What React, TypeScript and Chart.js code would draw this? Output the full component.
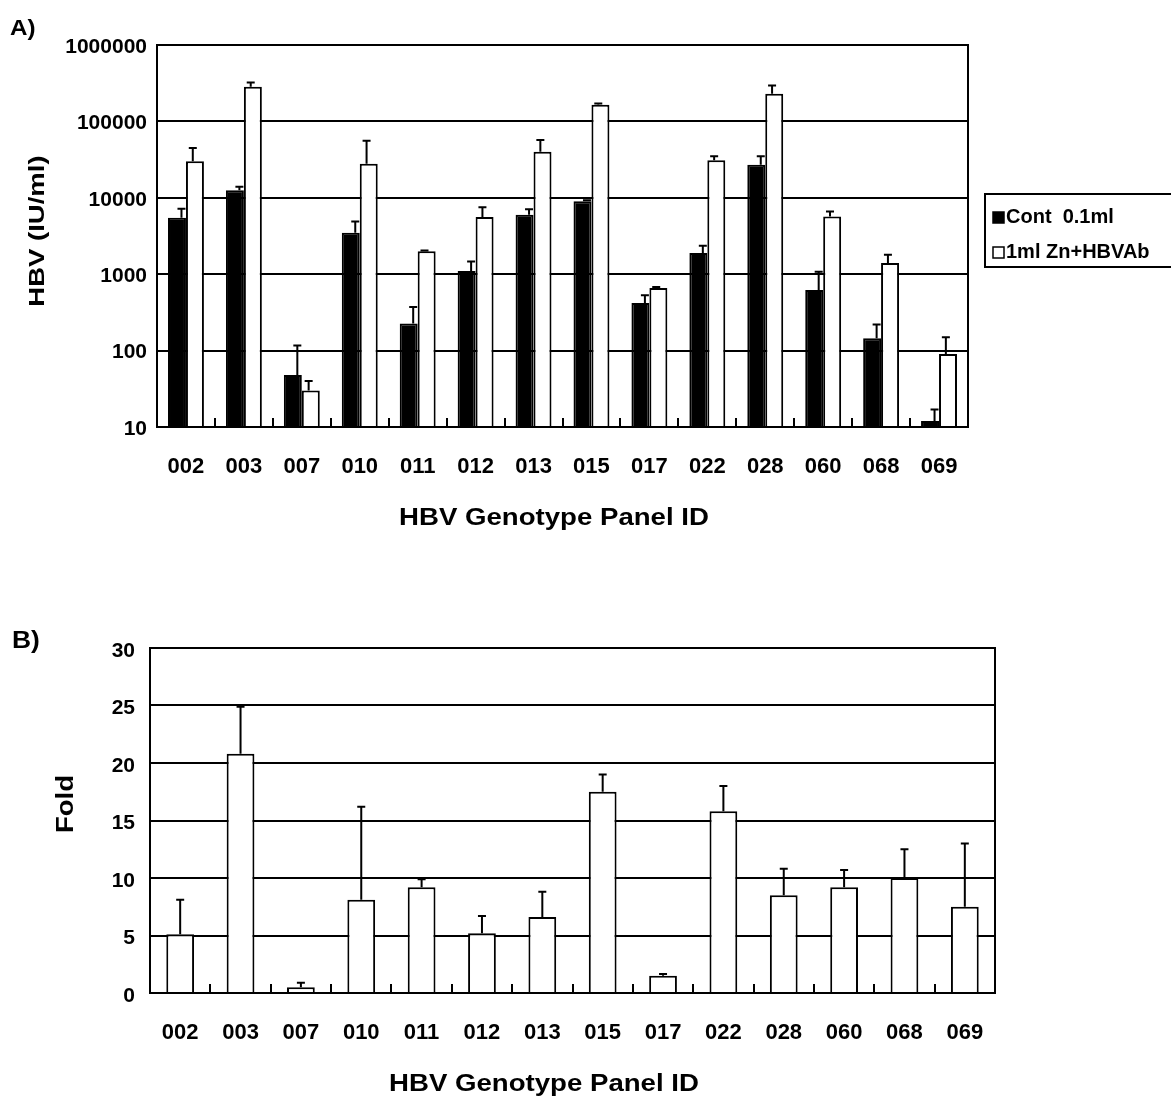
import React, { useEffect, useRef } from "react";
import { Chart, registerables } from "chart.js";

Chart.register(...registerables);

// ---------- data ----------
const categories = ["002", "003", "007", "010", "011", "012", "013", "015", "017", "022", "028", "060", "068", "069"];
const contLabel = "Cont  0.1ml";
const znLabel = "1ml Zn+HBVAb";
const contValues = [5500, 12600, 48, 3500, 226, 1100, 6000, 9000, 420, 1900, 27000, 620, 145, 12];
const contErrTop = [7200, 14000, 117, 4900, 373, 1470, 7100, 9300, 530, 2350, 35000, 1080, 220, 17];
const znValues = [30000, 285000, 30, 28000, 2000, 5600, 40000, 165000, 660, 31000, 230000, 5700, 1400, 90];
const znErrTop = [45000, 322000, 40, 56000, 2050, 7500, 57000, 172000, 680, 35000, 295000, 6600, 1800, 150];
const foldValues = [5.1, 20.8, 0.5, 8.1, 9.2, 5.2, 6.6, 17.5, 1.5, 15.8, 8.5, 9.2, 10.0, 7.5];
const foldErrTop = [8.1, 24.9, 0.9, 16.2, 9.9, 6.7, 8.8, 19.0, 1.65, 18.0, 10.8, 10.7, 12.5, 13.0];
const logTicks = [10, 100, 1000, 10000, 100000, 1000000];
const foldTicks = [0, 5, 10, 15, 20, 25, 30];
const xTitle = "HBV Genotype Panel ID";
const yTitleA = "HBV (IU/ml)";
const yTitleB = "Fold";

const FONT = "'Liberation Sans', Arial, sans-serif";

function text(ctx: CanvasRenderingContext2D, s: string, x: number, y: number, size: number, sx: number, align: CanvasTextAlign = "center", rot = 0) {
  ctx.save();
  ctx.translate(x, y);
  if (rot) ctx.rotate(rot);
  ctx.scale(sx, 1);
  ctx.font = `bold ${size}px ${FONT}`;
  ctx.fillStyle = "#000";
  ctx.textAlign = align;
  ctx.textBaseline = "middle";
  ctx.fillText(s, 0, 0);
  ctx.restore();
}

function framePlugin(opts: any) {
  return {
    id: "framePlugin",
    afterDatasetsDraw(chart: any) {
      const ctx: CanvasRenderingContext2D = chart.ctx;
      const { left, right, top, bottom } = chart.chartArea;
      const xs = chart.scales.x;
      const ys = chart.scales.y;
      ctx.save();
      ctx.strokeStyle = "#000";
      ctx.lineWidth = 2;
      // error bars (upper only, with cap)
      chart.data.datasets.forEach((ds: any, di: number) => {
        const meta = chart.getDatasetMeta(di);
        meta.data.forEach((bar: any, i: number) => {
          const topVal = ds.errTop[i];
          if (topVal == null) return;
          const w = bar.width;
          const x = bar.x + (ds.errShift || 0) * w;
          const y0 = ys.getPixelForValue(ds.data[i]);
          const y1 = ys.getPixelForValue(topVal);
          ctx.beginPath();
          ctx.moveTo(x, y0);
          ctx.lineTo(x, y1);
          ctx.moveTo(x - 4, y1);
          ctx.lineTo(x + 4, y1);
          ctx.stroke();
        });
      });
      // inner ticks at category boundaries
      for (let i = 0; i < categories.length - 1; i++) {
        const x = Math.round((xs.getPixelForValue(i) + xs.getPixelForValue(i + 1)) / 2);
        ctx.beginPath();
        ctx.moveTo(x, bottom);
        ctx.lineTo(x, bottom - 9);
        ctx.stroke();
      }
      // frame
      ctx.strokeRect(left, top, right - left, bottom - top);
      ctx.restore();

      // texts
      text(ctx, opts.panel, opts.panelX, opts.panelY, opts.panelSize, 1.1, "left");
      text(ctx, opts.yTitle, opts.yTitleX, opts.yTitleY, opts.yTitleSize, opts.yTitleSx, "center", -Math.PI / 2);
      text(ctx, xTitle, opts.xTitleX, opts.xTitleY, 23, 1.2);

      if (opts.legend) {
        const L = opts.legend;
        ctx.save();
        ctx.strokeStyle = "#000";
        ctx.lineWidth = 2;
        ctx.strokeRect(L.x, L.y, 1171 - L.x + 5, L.h);
        chart.data.datasets.forEach((ds: any, di: number) => {
          const cy = L.row0 + di * L.rowGap;
          ctx.fillStyle = ds.backgroundColor;
          ctx.fillRect(L.x + 8, cy - 5, 11, 11);
          ctx.lineWidth = 1.5;
          ctx.strokeRect(L.x + 8, cy - 5, 11, 11);
          text(ctx, ds.label, L.x + 21, cy, 20, 1.0, "left");
        });
        ctx.restore();
      }
    },
  };
}

function useChart(ref: React.RefObject<HTMLCanvasElement>, build: () => any) {
  useEffect(() => {
    if (!ref.current) return;
    const chart = new Chart(ref.current, build());
    return () => chart.destroy();
  }, []);
}

const yTickFont = { family: FONT, weight: "bold" as const, size: 21 };
const xTickFont = { family: FONT, weight: "bold" as const, size: 22 };

function TopChart() {
  const ref = useRef<HTMLCanvasElement>(null);
  useChart(ref, () => ({
    type: "bar",
    data: {
      labels: categories,
      datasets: [
        { label: contLabel, data: contValues, errTop: contErrTop, errShift: 0.25, backgroundColor: "#000", borderColor: "#000", borderWidth: 2 },
        { label: znLabel, data: znValues, errTop: znErrTop, errShift: -0.12, backgroundColor: "#fff", borderColor: "#000", borderWidth: 2 },
      ],
    },
    options: {
      animation: false,
      responsive: false,
      layout: { padding: { left: 0, right: 1171 - 968, top: 45, bottom: 560 - 427 - 60 } },
      plugins: { legend: { display: false }, tooltip: { enabled: false } },
      datasets: { bar: { categoryPercentage: 0.62, barPercentage: 1.0 } },
      scales: {
        x: {
          grid: { display: false },
          border: { display: false },
          ticks: { font: xTickFont, color: "#000", padding: 19, maxRotation: 0 },
          afterFit: (s: any) => { s.height = 60; },
        },
        y: {
          type: "logarithmic",
          min: 10,
          max: 1000000,
          afterBuildTicks: (s: any) => { s.ticks = logTicks.map((v) => ({ value: v })); },
          grid: { color: "#000", lineWidth: 2, drawTicks: false },
          border: { display: false },
          ticks: { font: yTickFont, color: "#000", padding: 10, labelOffset: 2, callback: (v: any) => String(v) },
          afterFit: (s: any) => { s.width = 157; },
        },
      },
    },
    plugins: [framePlugin({
      panel: "A)", panelX: 10, panelY: 29, panelSize: 22,
      yTitle: yTitleA, yTitleX: 38, yTitleY: 231, yTitleSize: 22, yTitleSx: 1.25,
      xTitleX: 554, xTitleY: 519,
      legend: { x: 985, y: 194, h: 73, row0: 217, rowGap: 35 },
    })],
  }));
  return <canvas ref={ref} width={1171} height={560} style={{ position: "absolute", left: 0, top: 0, width: 1171, height: 560 }} />;
}

function BottomChart() {
  const ref = useRef<HTMLCanvasElement>(null);
  useChart(ref, () => ({
    type: "bar",
    data: {
      labels: categories,
      datasets: [
        { label: "Fold", data: foldValues, errTop: foldErrTop, errShift: 0, backgroundColor: "#fff", borderColor: "#000", borderWidth: 2 },
      ],
    },
    options: {
      animation: false,
      responsive: false,
      layout: { padding: { left: 0, right: 1171 - 995, top: 48, bottom: 514 - 393 - 60 } },
      plugins: { legend: { display: false }, tooltip: { enabled: false } },
      datasets: { bar: { categoryPercentage: 1.0, barPercentage: 0.46 } },
      scales: {
        x: {
          grid: { display: false },
          border: { display: false },
          ticks: { font: xTickFont, color: "#000", padding: 19, maxRotation: 0 },
          afterFit: (s: any) => { s.height = 60; },
        },
        y: {
          min: 0,
          max: 30,
          afterBuildTicks: (s: any) => { s.ticks = foldTicks.map((v) => ({ value: v })); },
          grid: { color: "#000", lineWidth: 2, drawTicks: false },
          border: { display: false },
          ticks: { font: yTickFont, color: "#000", padding: 15, labelOffset: 3 },
          afterFit: (s: any) => { s.width = 150; },
        },
      },
    },
    plugins: [framePlugin({
      panel: "B)", panelX: 12, panelY: 41, panelSize: 24,
      yTitle: yTitleB, yTitleX: 67, yTitleY: 204, yTitleSize: 23, yTitleSx: 1.2,
      xTitleX: 544, xTitleY: 485,
    })],
  }));
  return <canvas ref={ref} width={1171} height={514} style={{ position: "absolute", left: 0, top: 600, width: 1171, height: 514 }} />;
}

export default function App() {
  return (
    <div style={{ position: "absolute", left: 0, top: 0, width: 1171, height: 1114, background: "#fff", overflow: "hidden" }}>
      <TopChart />
      <BottomChart />
    </div>
  );
}
